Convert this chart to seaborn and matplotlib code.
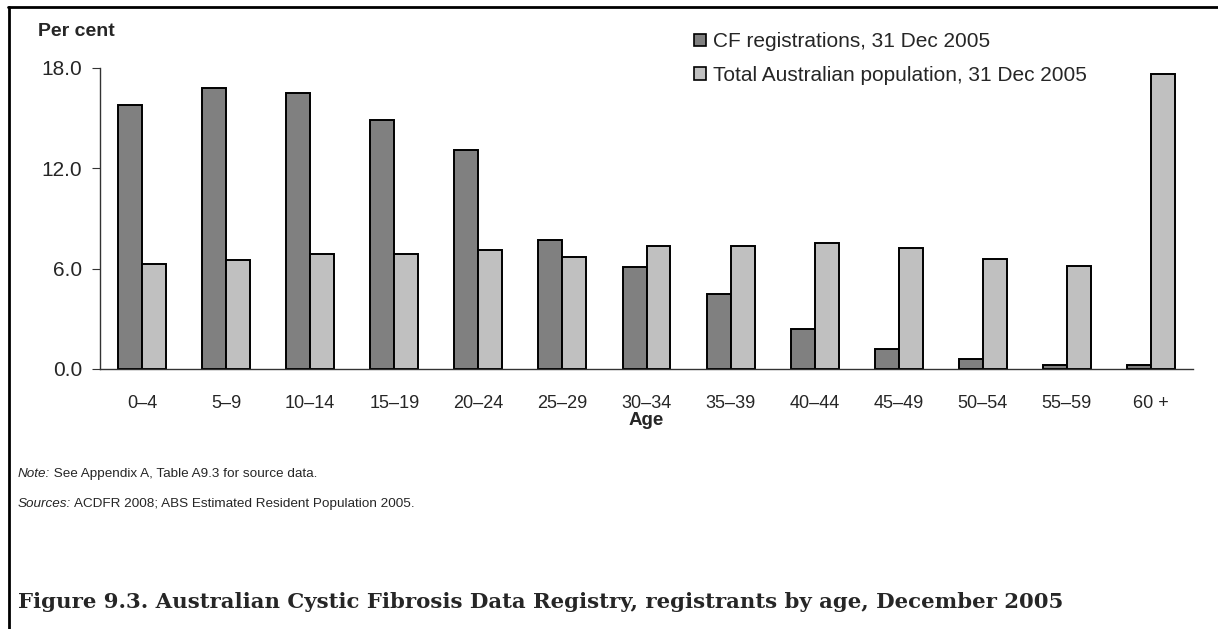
import matplotlib
matplotlib.use("Agg")
import matplotlib.pyplot as plt
import matplotlib.patches as mpatches
import matplotlib.lines as mlines
import pandas as pd
import seaborn as sns

# data (per cent)
ages = ["0–4", "5–9", "10–14", "15–19", "20–24", "25–29", "30–34",
        "35–39", "40–44", "45–49", "50–54", "55–59", "60 +"]
cf_reg = [15.8, 16.8, 16.5, 14.9, 13.1, 7.7, 6.1, 4.5, 2.4, 1.2, 0.6, 0.25, 0.25]
aus_pop = [6.3, 6.5, 6.9, 6.9, 7.1, 6.7, 7.35, 7.35, 7.5, 7.2, 6.6, 6.15, 17.6]
series_names = ["CF registrations, 31 Dec 2005",
                "Total Australian population, 31 Dec 2005"]
bar_colors = ["#808080", "#c0c0c0"]
yticks = [0, 6, 12, 18]

df = pd.DataFrame({
    "age": ages * 2,
    "pct": cf_reg + aus_pop,
    "series": [series_names[0]] * len(ages) + [series_names[1]] * len(ages),
})

sns.set_style("white")
plt.rcParams["font.family"] = ["Liberation Sans", "DejaVu Sans"]

W, H = 1218, 629
fig = plt.figure(figsize=(W / 100, H / 100), dpi=100)
ax = fig.add_axes([100 / W, 1 - 369 / H, (1193 - 100) / W, (369 - 67.7) / H])

sns.barplot(data=df, x="age", y="pct", hue="series", order=ages,
            hue_order=series_names, palette=bar_colors, width=0.57,
            edgecolor="black", linewidth=1.4, legend=False, ax=ax,
            saturation=1)

ax.set_ylim(0, 18)
ax.set_xlim(-0.5, len(ages) - 0.5)
ax.set_yticks(yticks)
ax.set_yticklabels([f"{v:.1f}" for v in yticks], fontsize=15)
ax.tick_params(axis="y", left=True, length=6, width=0.8, color="#333333", pad=7)
ax.tick_params(axis="x", bottom=False, length=0, labelsize=13, pad=19)
for s in ["top", "right"]:
    ax.spines[s].set_visible(False)
for s in ["left", "bottom"]:
    ax.spines[s].set_color("#333333")
    ax.spines[s].set_linewidth(1.0)
ax.set_xlabel("Age", fontsize=13.5, fontweight="bold", labelpad=0)
ax.set_ylabel("")

fig.text(38 / W, 1 - 32 / H, "Per cent", fontsize=14, fontweight="bold",
         va="center", ha="left")

# legend
handles = [mpatches.Patch(facecolor=c, edgecolor="black", linewidth=1.2)
           for c in bar_colors]
fig.legend(handles, series_names, loc="upper left",
           bbox_to_anchor=(684 / W, 1 - 22 / H), frameon=False, fontsize=15,
           handlelength=0.55, handleheight=0.55, handletextpad=0.35,
           labelspacing=0.7, borderpad=0)

# notes
note = fig.text(18 / W, 1 - 477 / H, "Note:", fontsize=9.7, style="italic",
                va="baseline", ha="left")
ax.annotate(" See Appendix A, Table A9.3 for source data.", xy=(1, 0),
            xycoords=note, va="bottom", ha="left", fontsize=9.7,
            annotation_clip=False)
src = fig.text(18 / W, 1 - 507 / H, "Sources:", fontsize=9.7, style="italic",
               va="baseline", ha="left")
ax.annotate(" ACDFR 2008; ABS Estimated Resident Population 2005.", xy=(1, 0),
            xycoords=src, va="bottom", ha="left", fontsize=9.7,
            annotation_clip=False)

fig.text(18 / W, 1 - 608 / H,
         "Figure 9.3. Australian Cystic Fibrosis Data Registry, registrants by age, December 2005",
         fontsize=15.3, fontweight="bold", family=["DejaVu Serif"],
         va="baseline", ha="left")

# frame lines at top and left of the figure
fig.add_artist(mlines.Line2D([8 / W, 1], [1 - 7 / H, 1 - 7 / H],
                             color="black", linewidth=2))
fig.add_artist(mlines.Line2D([9 / W, 9 / W], [0, 1 - 7 / H],
                             color="black", linewidth=2))

fig.savefig("out.png", dpi=100)
